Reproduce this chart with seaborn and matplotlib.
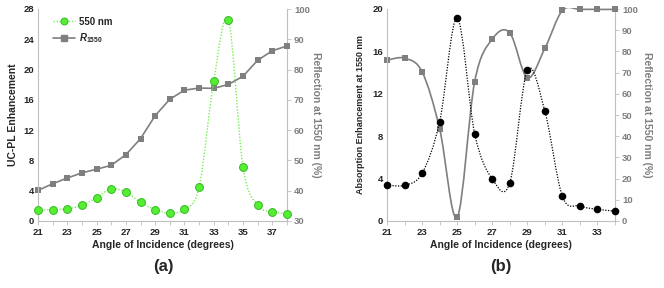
import numpy as np
import matplotlib
matplotlib.use("Agg")
import matplotlib.pyplot as plt
from matplotlib.path import Path
from matplotlib.patches import PathPatch, Rectangle
from matplotlib.lines import Line2D
import seaborn as sns
import pandas as pd

sns.set_theme(style="white")
plt.rcParams['font.family'] = ['Liberation Sans', 'DejaVu Sans']
plt.rcParams['font.weight'] = 'bold'
plt.rcParams['mathtext.fontset'] = 'custom'
plt.rcParams['mathtext.it'] = 'Liberation Sans:italic:bold'
plt.rcParams['mathtext.rm'] = 'Liberation Sans:bold'

# ---------------- data ----------------
angle_a = [21, 22, 23, 24, 25, 26, 27, 28, 29, 30, 31, 32, 33, 34, 35, 36, 37, 38]
uc_pl_550 = [1.45, 1.5, 1.6, 2.07, 3.08, 4.27, 3.8, 2.47, 1.5, 1.06, 1.55, 4.45,
             18.5, 26.55, 7.1, 2.07, 1.23, 0.97]
refl_a = [40.1, 42.3, 44.2, 45.9, 47.1, 48.4, 51.9, 57.2, 64.8, 70.2, 73.2, 73.9,
          73.8, 75.1, 77.8, 83.1, 86.2, 87.8]

angle_b = [21, 22, 23, 24, 25, 26, 27, 28, 29, 30, 31, 32, 33, 34]
abs_enh = [3.4, 3.37, 4.5, 9.36, 19.15, 8.22, 3.97, 3.59, 14.2, 10.37, 2.33, 1.42, 1.1, 0.94]
refl_b = [75.9, 76.8, 70.4, 43.6, 1.7, 65.8, 85.8, 88.8, 67.6, 81.4, 99.3, 99.8, 99.8, 99.8]

GREEN_LINE = '#77ee55'
GREEN_FACE = '#55ee33'
GREEN_EDGE = '#33bb22'
GRAY = '#7f7f7f'
GRID = '#d0d0d0'
SPINE = '#bfbfbf'


def smooth_path(ax, xs, ys, clip_y=None, **kw):
    """Excel-like smoothed line: Catmull-Rom segments drawn as cubic Bezier path."""
    x = np.asarray(xs, float)
    y = np.asarray(ys, float)
    n = len(x)
    verts = [(x[0], y[0])]
    codes = [Path.MOVETO]
    for i in range(n - 1):
        p0 = np.array([x[max(i - 1, 0)], y[max(i - 1, 0)]])
        p1 = np.array([x[i], y[i]])
        p2 = np.array([x[i + 1], y[i + 1]])
        p3 = np.array([x[min(i + 2, n - 1)], y[min(i + 2, n - 1)]])
        c1 = p1 + (p2 - p0) / 6.0
        c2 = p2 - (p3 - p1) / 6.0
        verts += [tuple(c1), tuple(c2), tuple(p2)]
        codes += [Path.CURVE4] * 3
    patch = PathPatch(Path(verts, codes), fill=False, **kw)
    ax.add_patch(patch)
    if clip_y is None:
        patch.set_clip_on(False)
    else:
        lo, hi = clip_y
        rect = Rectangle((x.min() - 1, lo), x.max() - x.min() + 2, hi - lo,
                         transform=ax.transData, visible=False)
        patch.set_clip_path(rect)
    return patch


def style_axes(ax, ax2, xmin, xmax, grid_levels):
    ax.set_xlim(xmin, xmax)
    ax.set_xticks(np.arange(xmin, xmax + 1, 1))
    ax.set_xticklabels([str(v) if (v - xmin) % 2 == 0 else '' for v in range(xmin, xmax + 1)])
    for s in ['top']:
        ax.spines[s].set_visible(False)
        ax2.spines[s].set_visible(False)
    for s in ['left', 'bottom']:
        ax.spines[s].set_color(SPINE)
        ax.spines[s].set_linewidth(0.8)
    ax.spines['right'].set_visible(False)
    ax2.spines['left'].set_visible(False)
    ax2.spines['bottom'].set_visible(False)
    ax2.spines['right'].set_color(SPINE)
    ax2.spines['right'].set_linewidth(0.8)
    # horizontal gridlines drawn in the (lower) right-hand axes so that
    # the reflection curve sits on top of them
    ax.grid(False)
    ax2.set_yticks(grid_levels, minor=True)
    ax2.tick_params(axis='y', which='minor', length=0)
    ax2.grid(True, which='minor', axis='y', color=GRID, linewidth=0.8)
    ax2.grid(False, which='major')
    ax2.set_axisbelow(True)
    ax.tick_params(axis='x', direction='out', length=3, width=0.6, color=SPINE,
                   labelsize=6.8, pad=2, bottom=True)
    ax.tick_params(axis='y', direction='out', length=0, labelsize=6.8, pad=3, left=True)
    ax2.tick_params(axis='y', which='major', direction='out', length=3, width=0.6,
                    color=SPINE, labelsize=6.8, labelcolor=GRAY, pad=2, right=True)
    for lab in ax.get_xticklabels() + ax.get_yticklabels() + ax2.get_yticklabels():
        lab.set_fontweight('bold')
    ax.set_zorder(ax2.get_zorder() + 1)
    ax.patch.set_visible(False)


fig = plt.figure(figsize=(6.64, 2.88), dpi=100)

# ---------------- panel (a) ----------------
axa = fig.add_axes([38 / 664, 67 / 288, 249 / 664, 212 / 288])
axa2 = axa.twinx()

df_a = pd.DataFrame({'angle': angle_a, 'uc': uc_pl_550, 'refl': refl_a})

axa2.set_ylim(30, 100)
axa2.set_yticks(np.arange(30, 101, 10))
axa2.plot(df_a['angle'], df_a['refl'], color=GRAY, lw=1.2, zorder=2, clip_on=False)
sns.scatterplot(data=df_a, x='angle', y='refl', ax=axa2, marker='s', s=22,
                color=GRAY, edgecolor=GRAY, linewidth=0, zorder=3, legend=False,
                clip_on=False)

axa.set_ylim(0, 28)
axa.set_yticks(np.arange(0, 29, 4))
smooth_path(axa, angle_a, uc_pl_550, edgecolor=GREEN_LINE, lw=1.0,
            linestyle=(0, (1, 1.2)), zorder=3)
sns.scatterplot(data=df_a, x='angle', y='uc', ax=axa, marker='o', s=32,
                color=GREEN_FACE, edgecolor=GREEN_EDGE, linewidth=0.7, zorder=4,
                legend=False, clip_on=False)

style_axes(axa, axa2, 21, 38, np.arange(40, 101, 10))
axa.set_xlabel('Angle of Incidence (degrees)', fontsize=7.5, fontweight='bold', labelpad=2)
axa.set_ylabel('UC-PL Enhancement', fontsize=7.5, fontweight='bold', labelpad=4)
axa2.set_ylabel('Reflection at 1550 nm (%)', fontsize=7.5, fontweight='bold',
                color=GRAY, rotation=270, labelpad=8)
axa2.set_xlabel('')

handles = [
    Line2D([], [], color=GREEN_LINE, lw=1.0, linestyle=(0, (1, 1.2)), marker='o',
           markersize=5, markerfacecolor=GREEN_FACE, markeredgecolor=GREEN_EDGE,
           markeredgewidth=0.7),
    Line2D([], [], color=GRAY, lw=1.2, marker='s', markersize=4.5,
           markerfacecolor=GRAY, markeredgecolor=GRAY),
]
leg = axa.legend(handles, ['550 nm', r'$R_{\mathrm{1550}}$'], loc='upper left',
                 bbox_to_anchor=(0.03, 1.0), frameon=True, framealpha=1,
                 edgecolor='white', fontsize=7, handlelength=2.2, handletextpad=0.4,
                 borderpad=0.3, labelspacing=0.5)
for t in leg.get_texts():
    t.set_fontweight('bold')

fig.text(163 / 664, 1 - 267 / 288, '(a)', ha='center', va='center',
         fontsize=12, fontweight='bold')

# ---------------- panel (b) ----------------
axb = fig.add_axes([387 / 664, 67 / 288, 228 / 664, 212 / 288])
axb2 = axb.twinx()

df_b = pd.DataFrame({'angle': angle_b, 'abs': abs_enh, 'refl': refl_b})

axb2.set_ylim(0, 100)
axb2.set_yticks(np.arange(0, 101, 10))
smooth_path(axb2, angle_b, refl_b, clip_y=(-1.5, 100.4), edgecolor=GRAY, lw=1.2, zorder=2)
sns.scatterplot(data=df_b, x='angle', y='refl', ax=axb2, marker='s', s=22,
                color=GRAY, edgecolor=GRAY, linewidth=0, zorder=3, legend=False,
                clip_on=False)

axb.set_ylim(0, 20)
axb.set_yticks(np.arange(0, 21, 4))
smooth_path(axb, angle_b, abs_enh, edgecolor='black', lw=0.9,
            linestyle=(0, (1, 1.2)), zorder=3)
sns.scatterplot(data=df_b, x='angle', y='abs', ax=axb, marker='o', s=30,
                color='black', edgecolor='black', linewidth=0, zorder=4, legend=False,
                clip_on=False)

style_axes(axb, axb2, 21, 34, np.arange(20, 101, 20))
axb.set_xlabel('Angle of Incidence (degrees)', fontsize=7.5, fontweight='bold', labelpad=2)
axb.set_ylabel('Absorption Enhancement at 1550 nm', fontsize=6.5, fontweight='bold',
               labelpad=5)
axb2.set_ylabel('Reflection at 1550 nm (%)', fontsize=7.5, fontweight='bold',
                color=GRAY, rotation=270, labelpad=10)
axb2.set_xlabel('')

fig.text(501 / 664, 1 - 267 / 288, '(b)', ha='center', va='center',
         fontsize=12, fontweight='bold')

fig.savefig('out.png', dpi=100, facecolor='white')
